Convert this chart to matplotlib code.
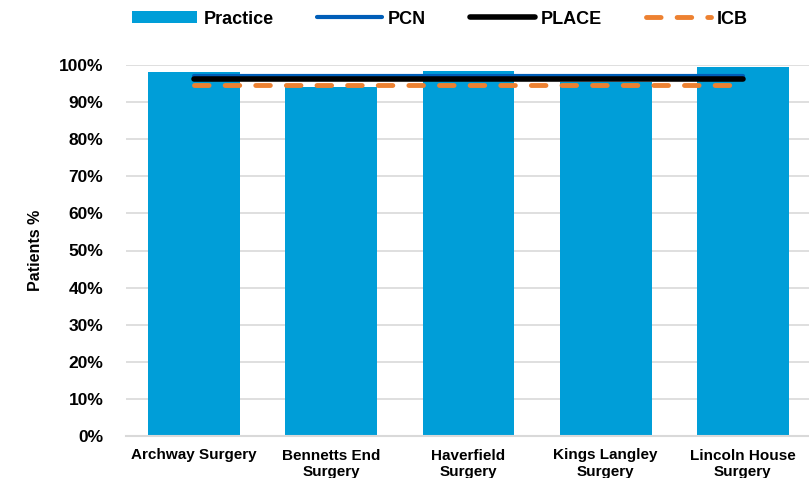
import matplotlib
matplotlib.use("Agg")
import matplotlib.pyplot as plt
import numpy as np
from matplotlib.ticker import PercentFormatter

categories = ["Archway Surgery", "Bennetts End\nSurgery", "Haverfield\nSurgery",
              "Kings Langley\nSurgery", "Lincoln House\nSurgery"]
practice = [98.0, 94.0, 98.5, 95.3, 99.5]
pcn = [97.0] * 5
place = [96.2] * 5
icb = [94.6] * 5

plt.rcParams['font.family'] = ['Liberation Sans', 'DejaVu Sans']
plt.rcParams['font.weight'] = 'bold'

fig = plt.figure(figsize=(8.09, 4.78), dpi=100)
ax = fig.add_axes([125.5/809, 1 - 436/478, (811.5 - 125.5)/809, (436 - 65)/478])

x = np.arange(len(categories))
h_bar = ax.bar(x, practice, width=0.67, color="#009ED8", label="Practice", zorder=2)
h_pcn, = ax.plot(x, pcn, color="#005EB8", lw=3, label="PCN", zorder=3, solid_capstyle='round')
h_place, = ax.plot(x, place, color="#000000", lw=4, label="PLACE", zorder=4, solid_capstyle='round')
h_icb, = ax.plot(x, icb, color="#ED8131", lw=3.5, ls=(0, (3, 3.3)), label="ICB", zorder=5,
                 dash_capstyle='round')

ax.set_xlim(-0.5, len(categories) - 0.5)
ax.set_ylim(0, 100)
ax.set_yticks(np.arange(0, 101, 10))
ax.yaxis.set_major_formatter(PercentFormatter(decimals=0))
ax.grid(axis='y', color="#d9d9d9", lw=1.2, zorder=0)
ax.set_axisbelow(True)
for s in ['top', 'right', 'left']:
    ax.spines[s].set_visible(False)
ax.spines['bottom'].set_color("#d9d9d9")
ax.spines['bottom'].set_linewidth(1.5)
ax.tick_params(axis='y', length=0, labelsize=12.5, pad=16)
ax.tick_params(axis='x', length=0, labelsize=11, pad=9)
ax.set_xticks(x)
ax.set_xticklabels(categories, fontweight='bold', linespacing=1.25)
for t in ax.get_yticklabels():
    t.set_fontweight('bold')
ax.set_ylabel("Patients %", fontsize=11.5, fontweight='bold', labelpad=11)

leg = fig.legend([h_bar, h_pcn, h_place, h_icb], ["Practice", "PCN", "PLACE", "ICB"],
                 loc='center', bbox_to_anchor=(440/809, 1 - 19/478), ncol=4, frameon=False,
                 prop={'size': 13, 'weight': 'bold'}, handlelength=3.6, handletextpad=0.35,
                 columnspacing=2.4, handleheight=0.6)

fig.savefig("out.png", dpi=100)
